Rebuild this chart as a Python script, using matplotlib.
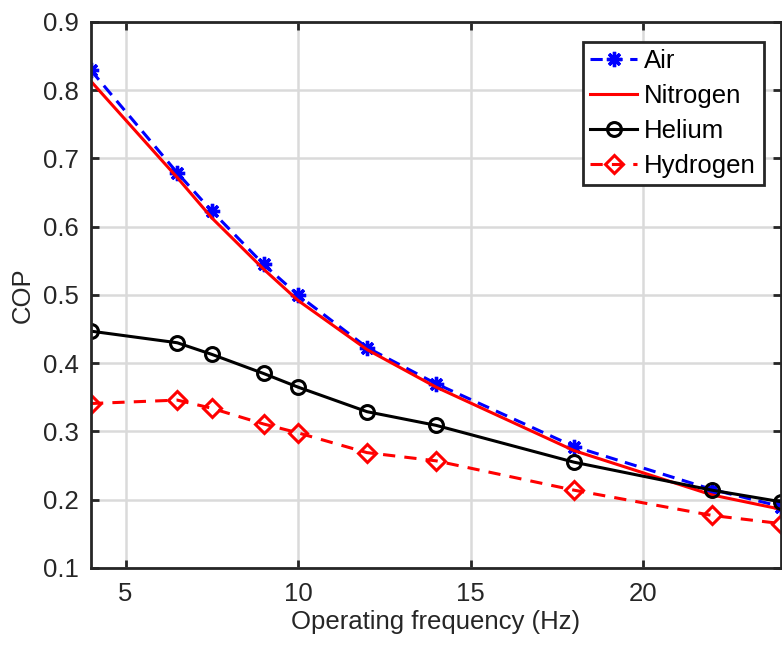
import numpy as np
import matplotlib.pyplot as plt

plt.rcParams['font.family'] = ['Liberation Sans', 'DejaVu Sans']

# operating frequency in Hz
freq = [4, 6.5, 7.5, 9, 10, 12, 14, 18, 22, 24]

cop_air = [0.829, 0.679, 0.623, 0.545, 0.500, 0.423, 0.370, 0.278, 0.215, 0.190]
cop_nitrogen = [0.813, 0.672, 0.613, 0.538, 0.492, 0.420, 0.365, 0.272, 0.207, 0.186]
cop_helium = [0.447, 0.430, 0.413, 0.385, 0.365, 0.329, 0.309, 0.255, 0.214, 0.197]
cop_hydrogen = [0.341, 0.346, 0.334, 0.311, 0.298, 0.269, 0.257, 0.214, 0.177, 0.165]

xticks = [5, 10, 15, 20]
yticks = [0.1, 0.2, 0.3, 0.4, 0.5, 0.6, 0.7, 0.8, 0.9]

txt = '#262626'
fs = 18.5

fig = plt.figure(figsize=(7.82, 6.45), dpi=100)
ax = fig.add_axes([0.1164, 0.1194, 0.8824, 0.8465])

ax.plot(freq, cop_air, '--', color='blue', lw=2.2, marker=(8, 2, 0),
        ms=11, mew=2.4, label='Air', dashes=(4, 2.5))
ax.plot(freq, cop_nitrogen, '-', color='red', lw=2.2, label='Nitrogen')
ax.plot(freq, cop_helium, '-', color='black', lw=2.2, marker='o',
        ms=10, mfc='none', mew=2.2, label='Helium')
ax.plot(freq, cop_hydrogen, '--', color='red', lw=2.2, marker='D',
        ms=9.5, mfc='none', mew=2.2, label='Hydrogen', dashes=(4, 3))

ax.set_xlim(4, 24)
ax.set_ylim(0.1, 0.9)
ax.set_xticks(xticks)
ax.set_yticks(yticks)
ax.set_yticklabels(['%.1f' % v for v in yticks])
ax.grid(True, color='#dadada', lw=1.8)
ax.set_axisbelow(True)

for s in ax.spines.values():
    s.set_linewidth(2)
    s.set_color(txt)
ax.tick_params(direction='in', top=True, right=True, length=6, width=2,
               labelsize=fs, colors=txt)
ax.tick_params(axis='y', pad=9)
ax.tick_params(axis='x', pad=10)

ax.set_xlabel('Operating frequency (Hz)', fontsize=fs, color=txt, labelpad=3)
ax.set_ylabel('COP', fontsize=fs, color=txt, labelpad=6)

leg = ax.legend(loc='upper right', bbox_to_anchor=(0.975, 0.964), fontsize=fs,
                frameon=True, fancybox=False, framealpha=1, edgecolor='#262626',
                handlelength=1.8, handletextpad=0.3, labelspacing=0.42,
                borderpad=0.3, borderaxespad=0)
leg.get_frame().set_linewidth(2)

fig.savefig('out.png', dpi=100)
